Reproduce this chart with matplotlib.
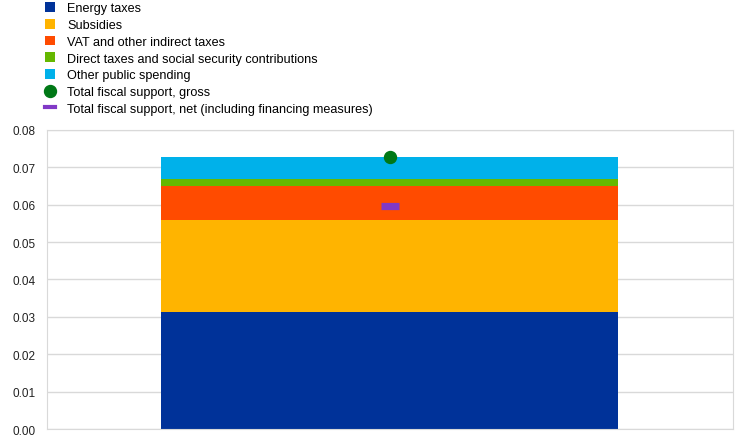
import matplotlib.pyplot as plt
from matplotlib.lines import Line2D
from matplotlib.patches import Patch

plt.rcParams['font.family'] = ['Liberation Sans', 'DejaVu Sans']

# Werte
categories = [""]
series_names = ["Energy taxes", "Subsidies", "VAT and other indirect taxes",
                "Direct taxes and social security contributions", "Other public spending"]
energy_taxes = [0.0313]
subsidies = [0.0247]
vat_indirect = [0.0090]
direct_taxes = [0.0019]
other_spending = [0.0059]
gross_total = [0.0728]
net_total = [0.0596]
yticks = [0.00, 0.01, 0.02, 0.03, 0.04, 0.05, 0.06, 0.07, 0.08]

colors = ["#003299", "#FFB400", "#FF4B00", "#65B800", "#00B1EA"]
series = [energy_taxes, subsidies, vat_indirect, direct_taxes, other_spending]

fig = plt.figure(figsize=(7.44, 4.39), dpi=100)
ax = fig.add_axes([0.0628, 0.0205, 0.922, 0.6811])

x = list(range(len(categories)))
bottom = [0.0] * len(categories)
for vals, col, name in zip(series, colors, series_names):
    ax.bar(x, vals, width=1.0, bottom=bottom, color=col, label=name, zorder=2)
    bottom = [b + v for b, v in zip(bottom, vals)]

ax.plot(x, gross_total, linestyle="none", marker="o", ms=8.6, color="#007816", zorder=3)
ax.plot(x, net_total, linestyle="none", marker="_", ms=12.5, mew=5.2, color="#8139C6", zorder=3)

ax.set_xlim(-0.75, 0.75)
ax.set_ylim(0, 0.08)
ax.set_yticks(yticks)
ax.set_yticklabels([f"{t:.2f}" for t in yticks])
ax.set_xticks([])
ax.tick_params(axis="y", length=0, labelsize=8.5, pad=8, colors="#222222")
ax.grid(axis="y", color="#D9D9D9", linewidth=1, zorder=0)
for s in ax.spines.values():
    s.set_color("#D9D9D9")

# Legende
handles = [Patch(facecolor=c, edgecolor="none") for c in colors]
handles.append(Line2D([], [], linestyle="none", marker="o", ms=8.6, color="#007816"))
handles.append(Line2D([], [], color="#8139C6", linewidth=3))
labels = series_names + ["Total fiscal support, gross",
                         "Total fiscal support, net (including financing measures)"]
fig.legend(handles, labels, loc="upper left", bbox_to_anchor=(0.049, 1.013),
           frameon=False, fontsize=9.1, handlelength=0.8, handleheight=0.8,
           handletextpad=0.95, labelspacing=0.36, borderpad=0.2)

fig.savefig("out.png", dpi=100)
